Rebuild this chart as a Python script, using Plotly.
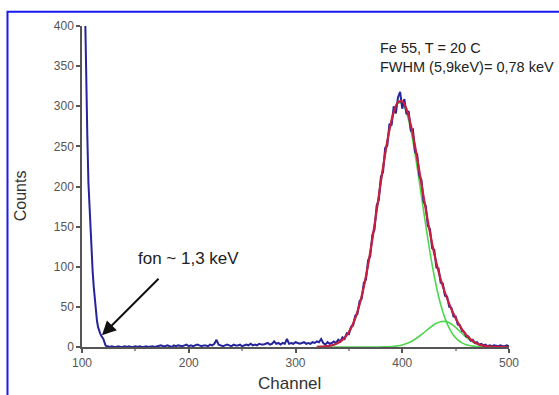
import plotly.graph_objects as go

# --- measured spectrum (Fe-55, T = 20 C) ---
# steep low-energy noise edge, channels 101..123
ch_edge = list(range(101, 124))
counts_edge = [560, 470, 400, 330, 262, 205, 172, 137, 114, 94, 75, 58,
               44, 33, 25, 20, 17, 14, 12, 10, 6, 2, 1]

# flat background, channels 124..320 (step 2)
ch_flat = list(range(124, 321, 2))
counts_flat = [
    1, 0, 1, 0, 0, 1, 0, 0, 1, 0, 1, 0, 0, 1, 0, 1, 0, 0, 1, 0, 1, 1, 0, 1,
    1, 2, 1, 1, 2, 1, 0, 2, 1, 2, 1, 1, 2, 3, 1, 2, 1, 2, 3, 2, 1, 2, 2, 1, 3,
    2, 4, 9, 3, 2, 1, 2, 3, 2, 1, 3, 2, 2, 3, 1, 2, 3, 2, 4, 2, 3, 2, 4, 3, 3,
    4, 5, 3, 4, 7, 4, 5, 3, 5, 4, 10, 4, 5, 4, 6, 5, 4, 5, 6, 4, 5, 4, 6, 5, 7,
]

# photopeak region, channels 322..500 (step 2)
ch_peak = list(range(322, 501, 2))
counts_peak = [
    6, 10, 5, 3, 6, 4, 5, 7, 5, 9, 7, 12, 10, 17, 16, 25, 27, 39, 41, 57,
    60, 80, 84, 108, 113, 140, 146, 176, 183, 212, 218, 248, 251, 278, 276, 300, 291, 311, 318, 297,
    309, 290, 294, 270, 271, 243, 240, 213, 208, 181, 176, 151, 147, 123, 121, 99, 98, 80, 79, 64,
    63, 50, 49, 38, 38, 28, 27, 20, 19, 13, 13, 8, 9, 5, 6, 3, 4, 2, 3, 1,
    2, 1, 2, 1, 1, 2, 1, 1, 2, 1,
]

channels = ch_edge + ch_flat + ch_peak
counts = counts_edge + counts_flat + counts_peak

# --- fitted curves, channels 320..500 (step 4) ---
ch_fit = list(range(320, 501, 4))
fit_total = [0.2, 0.4, 0.8, 1.6, 2.9, 5.2, 8.9, 14.7, 23.5, 36.0, 53.0, 75.1,
             102.5, 134.4, 169.6, 206.0, 240.7, 270.6, 292.8, 305.0, 306.1, 296.3,
             276.8, 250.1, 219.3, 187.3, 156.5, 128.7, 104.6, 84.5, 67.9, 53.8,
             41.4, 30.9, 22.0, 14.9, 9.6, 5.7, 3.2, 1.7, 0.9, 0.4, 0.2, 0.1, 0.0, 0.0]
fit_kalpha = [0.2, 0.4, 0.8, 1.6, 2.9, 5.2, 8.9, 14.7, 23.5, 36.0, 53.0, 75.1,
              102.5, 134.4, 169.6, 205.9, 240.5, 270.2, 292.0, 303.5, 303.5, 292.0,
              270.2, 240.5, 205.9, 169.6, 134.4, 102.5, 75.1, 53.0, 36.0, 23.5,
              14.7, 8.9, 5.2, 2.9, 1.6, 0.8, 0.4, 0.2, 0.1, 0.0, 0.0, 0.0, 0.0, 0.0]
fit_kbeta = [0.0, 0.0, 0.0, 0.0, 0.0, 0.0, 0.0, 0.0, 0.0, 0.0, 0.0, 0.0,
             0.0, 0.0, 0.0, 0.1, 0.2, 0.4, 0.8, 1.5, 2.6, 4.3, 6.6, 9.6, 13.4,
             17.7, 22.1, 26.2, 29.5, 31.5, 31.9, 30.3, 26.7, 22.0, 16.8, 12.0,
             8.0, 4.9, 2.8, 1.5, 0.8, 0.4, 0.2, 0.1, 0.0, 0.0]

x_ticks = [100, 200, 300, 400, 500]
y_ticks = [0, 50, 100, 150, 200, 250, 300, 350, 400]

BLUE = "#25249c"
RED = "#c81f40"
GREEN = "#4fd64f"
AXIS = "#555555"

fig = go.Figure()
# fit components first, then data, then the summed fit on top
fig.add_trace(go.Scatter(x=ch_fit, y=fit_kalpha, mode="lines",
                         line=dict(color=GREEN, width=1.6, shape="spline"), hoverinfo="skip"))
fig.add_trace(go.Scatter(x=ch_fit, y=fit_kbeta, mode="lines",
                         line=dict(color=GREEN, width=1.6, shape="spline"), hoverinfo="skip"))
fig.add_trace(go.Scatter(x=channels, y=counts, mode="lines",
                         line=dict(color=BLUE, width=2), hoverinfo="skip"))
fig.add_trace(go.Scatter(x=ch_fit, y=fit_total, mode="lines",
                         line=dict(color=RED, width=2.2, shape="spline"), hoverinfo="skip"))

FONT = "Liberation Sans, Arial, sans-serif"

fig.update_layout(
    width=559, height=395,
    margin=dict(l=82, r=50, t=26, b=48),
    paper_bgcolor="white", plot_bgcolor="white",
    showlegend=False,
    font=dict(family=FONT, color="#222222"),
    xaxis=dict(range=[100, 500], tickvals=x_ticks, ticks="outside", ticklen=4,
               tickwidth=1.5, tickcolor=AXIS, showline=True, linecolor=AXIS,
               linewidth=1.5, showgrid=False, zeroline=False,
               tickfont=dict(size=12, color=AXIS),
               minor=dict(dtick=50, ticks="outside", ticklen=2, tickcolor="#999999",
                          showgrid=False)),
    yaxis=dict(range=[0, 400], tickvals=y_ticks, ticks="outside", ticklen=4,
               tickwidth=1.5, tickcolor=AXIS, showline=True, linecolor=AXIS,
               linewidth=1.5, showgrid=False, zeroline=False,
               tickfont=dict(size=12, color=AXIS)),
    shapes=[dict(type="rect", xref="paper", yref="paper",
                 x0=-0.1745, x1=1.3, y0=-0.3, y1=1.0442,
                 line=dict(color="#1a1aee", width=2), layer="above")],
    annotations=[
        dict(text="Counts", xref="paper", yref="paper", x=-0.1452, y=0.4726,
             textangle=-90, showarrow=False, font=dict(size=16, color="#333333"),
             xanchor="center", yanchor="middle"),
        dict(text="Channel", xref="paper", yref="paper", x=0.487, y=-0.113,
             showarrow=False, font=dict(size=17, color="#333333"),
             xanchor="center", yanchor="middle"),
        dict(text="Fe 55, T = 20 C", xref="paper", yref="paper", x=0.6933, y=0.9305,
             showarrow=False, font=dict(size=14.5), xanchor="left", yanchor="middle"),
        dict(text="FWHM (5,9keV)= 0,78 keV", xref="paper", yref="paper", x=0.6933,
             y=0.871, showarrow=False, font=dict(size=14.5), xanchor="left",
             yanchor="middle"),
        dict(text="fon ~ 1,3 keV", x=200.2, y=110.5, showarrow=False,
             font=dict(size=17), xanchor="center", yanchor="middle"),
        dict(text="", x=118.7, y=14.6, ax=173.1, ay=86.9, axref="x", ayref="y",
             showarrow=True, arrowhead=2, arrowsize=1.4, arrowwidth=2,
             arrowcolor="#111111"),
    ],
)

fig.write_html("out.html")
